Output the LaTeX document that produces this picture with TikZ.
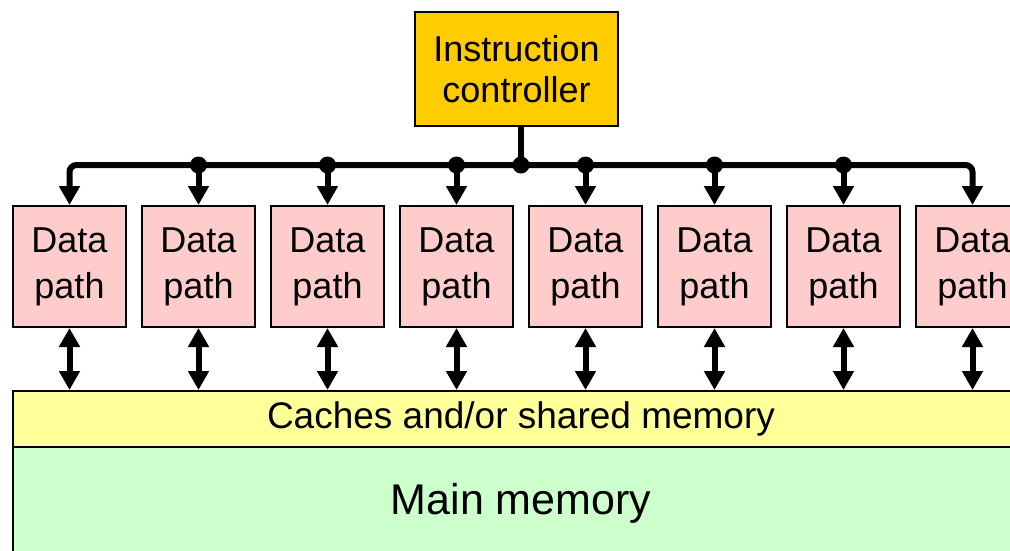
\documentclass[tikz,border=0pt]{standalone}
\usepackage{fontspec}
\setmainfont{Liberation Sans}
\usetikzlibrary{arrows.meta}
\definecolor{ctrlfill}{HTML}{FFCC00}
\definecolor{dpfill}{HTML}{FFCCCC}
\definecolor{cachefill}{HTML}{FFFF99}
\definecolor{memfill}{HTML}{CCFFCC}
\tikzset{
  box/.style={draw=black, line width=2pt, inner sep=0pt, align=center},
  ctrlbox/.style={box, fill=ctrlfill, minimum width=203pt, minimum height=114pt,
    font=\fontsize{36}{41}\selectfont},
  dpbox/.style={box, fill=dpfill, minimum width=113pt, minimum height=121pt,
    font=\fontsize{36}{46}\selectfont},
  cachebox/.style={box, fill=cachefill, minimum width=1016pt, minimum height=56pt,
    font=\fontsize{37}{44}\selectfont},
  membox/.style={box, fill=memfill, minimum width=1016pt, minimum height=113pt,
    font=\fontsize{43}{50}\selectfont},
  wire/.style={line width=6pt},
  tip/.tip={Triangle[width=20pt,length=19pt]},
  down/.style={wire, -tip},
  both/.style={wire, tip-tip},
  junction/.style={fill=black}
}
\begin{document}
\begin{tikzpicture}[x=1pt, y=-1pt]
  \useasboundingbox (0,0) rectangle (1010,550);
  \clip (0,0) rectangle (1010,550);

  % memory levels
  \node[membox] (mem) at (521,503.5) {Main memory};
  \node[cachebox] (cache) at (521,419) {Caches and/or shared memory};

  % controller
  \node[ctrlbox] (ctrl) at (516.5,69) {Instruction\\controller};
  \coordinate (bus) at (521,165);

  % data paths
  \foreach \i in {1,...,8} {
    \node[dpbox] (dp\i) at ({69.5+129*(\i-1)},266.5) {Data\\path};
  }

  % broadcast bus from controller
  \draw[wire] (ctrl.south -| bus) -- (bus);
  \draw[down, rounded corners=7pt] (bus) -| (dp1.north);
  \draw[down, rounded corners=7pt] (bus) -| (dp8.north);
  \foreach \i in {2,...,7} {
    \draw[down] (dp\i.north |- bus) -- (dp\i.north);
    \fill[junction] (dp\i.north |- bus) circle (8.5pt);
  }
  \fill[junction] (bus) circle (8.5pt);

  % links between data paths and memory
  \foreach \i in {1,...,8} {
    \draw[both] (dp\i.south) -- (dp\i.south |- cache.north);
  }
\end{tikzpicture}
\end{document}
